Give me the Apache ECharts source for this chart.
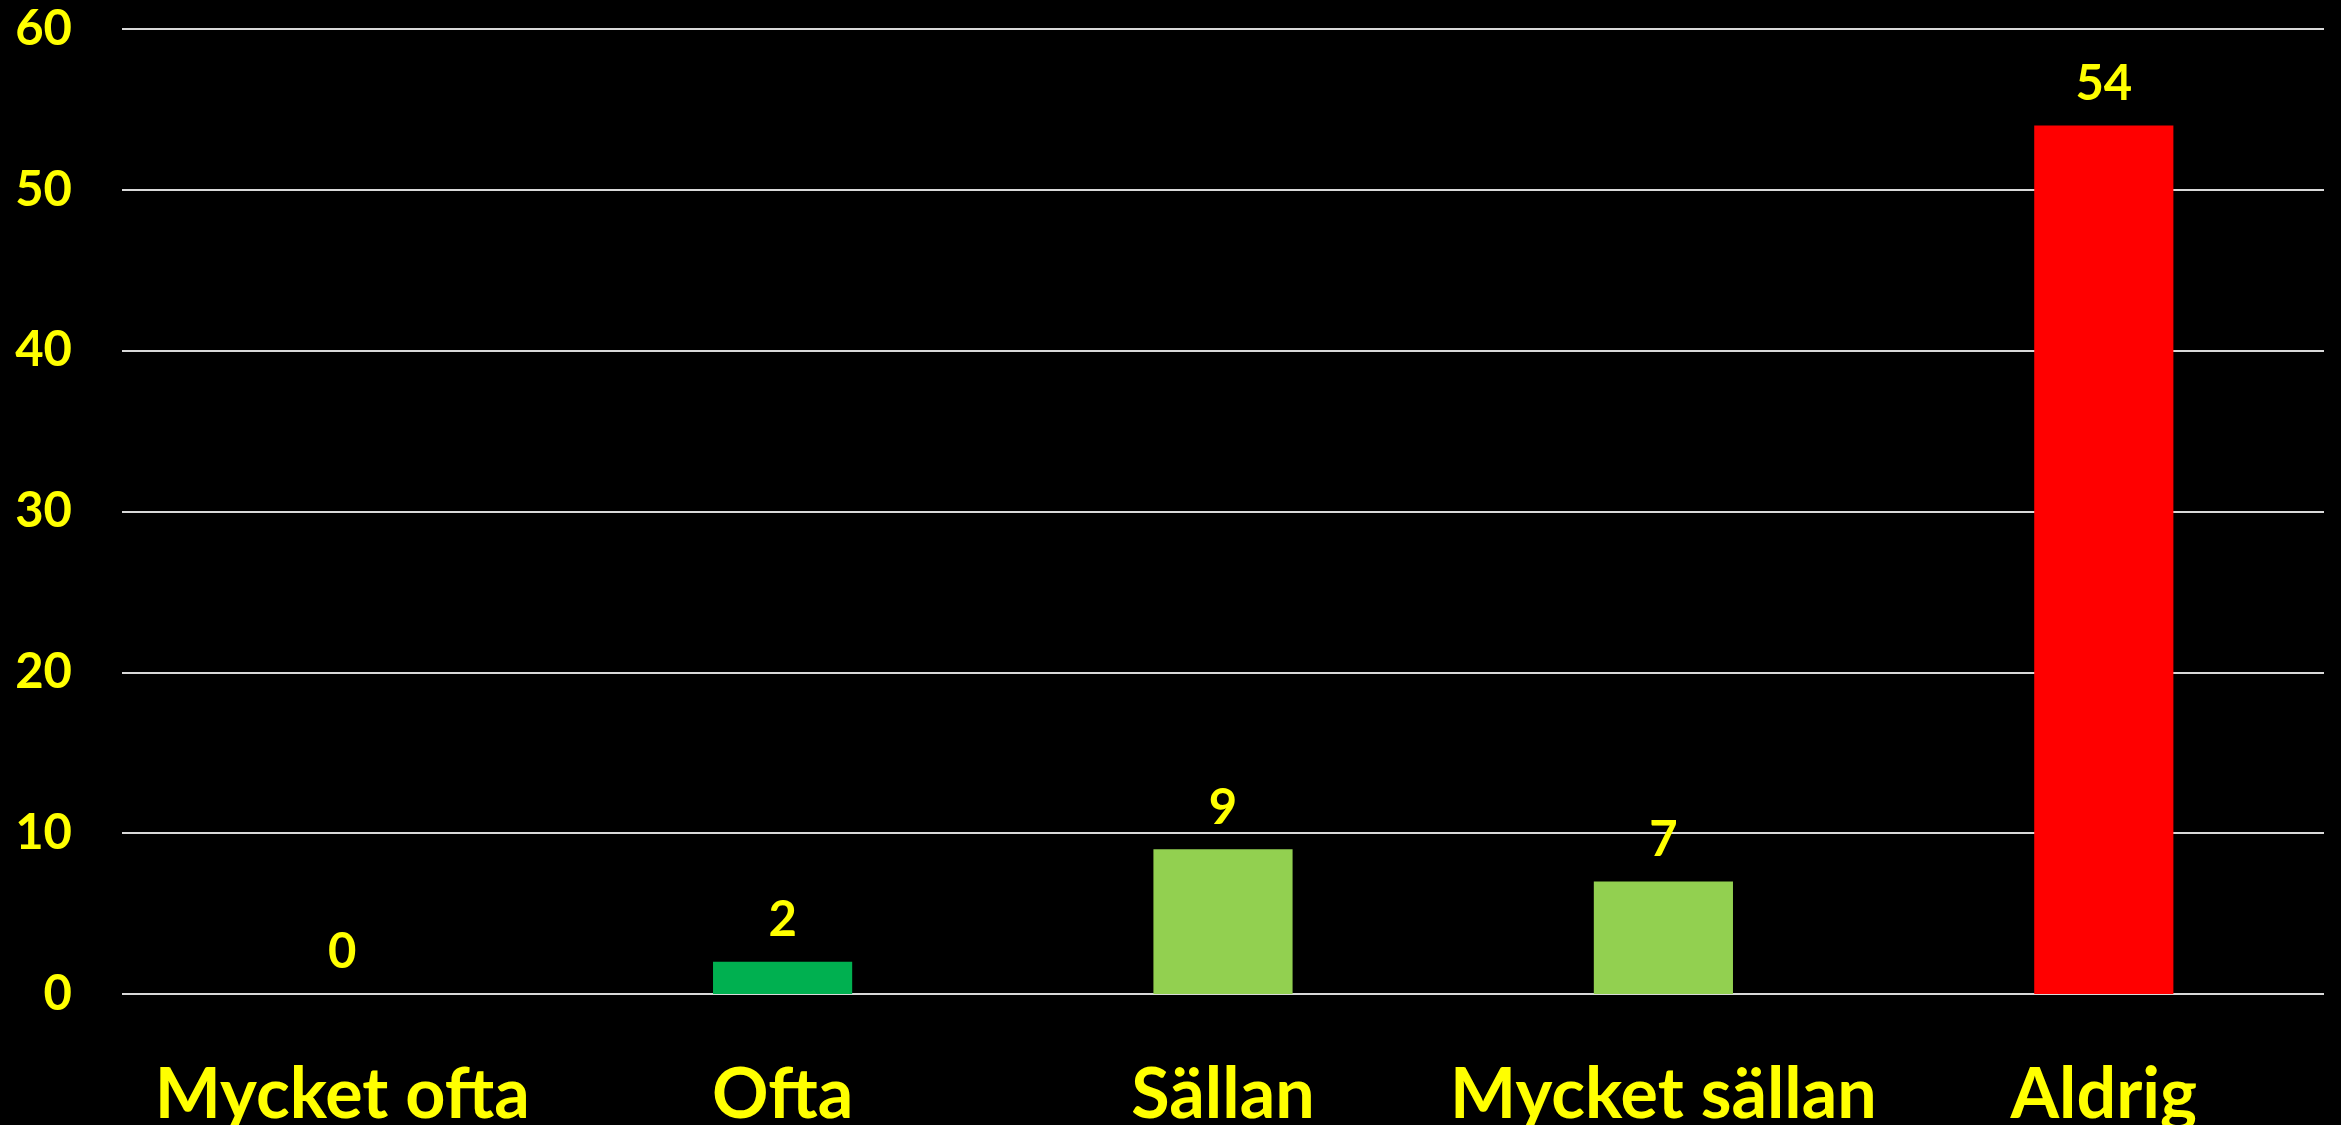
<!DOCTYPE html>
<html>
<head>
<meta charset="utf-8">
<script src="https://cdn.jsdelivr.net/npm/echarts@6/dist/echarts.min.js"></script>
<style>
html,body{margin:0;padding:0;background:#000;}
#c{width:2341px;height:1125px;}
</style>
</head>
<body>
<div id="c"></div>
<script>
const categories = ['Mycket ofta', 'Ofta', 'Sällan', 'Mycket sällan', 'Aldrig'];
const values = [0, 2, 9, 7, 54];
const barColors = ['#00B050', '#00B050', '#92D050', '#92D050', '#FF0000'];
const yTicks = [0, 10, 20, 30, 40, 50, 60];

const chart = echarts.init(document.getElementById('c'));
chart.setOption({
  backgroundColor: '#000000',
  animation: false,
  grid: { left: 122, right: 17, top: 29, bottom: 131, containLabel: false, outerBoundsMode: 'none' },
  xAxis: {
    type: 'category',
    data: categories,
    axisLine: { show: false },
    axisTick: { show: false },
    axisLabel: { color: '#FFFF00', fontFamily: 'Lato', fontWeight: 'bold', fontSize: 70, margin: 66, interval: 0 }
  },
  yAxis: {
    type: 'value',
    min: yTicks[0],
    max: yTicks[yTicks.length - 1],
    interval: 10,
    axisLine: { show: false },
    axisTick: { show: false },
    axisLabel: { color: '#FFFF00', fontFamily: 'Lato', fontWeight: 'bold', fontSize: 49, margin: 50 },
    splitLine: { lineStyle: { color: '#D9D9D9', width: 2 } }
  },
  series: [{
    type: 'bar',
    data: values.map((v, i) => ({ value: v, itemStyle: { color: barColors[i] } })),
    barWidth: '31.6%',
    label: { show: true, position: 'top', distance: 17, color: '#FFFF00', fontFamily: 'Lato', fontWeight: 'bold', fontSize: 49 }
  }]
});
</script>
</body>
</html>
